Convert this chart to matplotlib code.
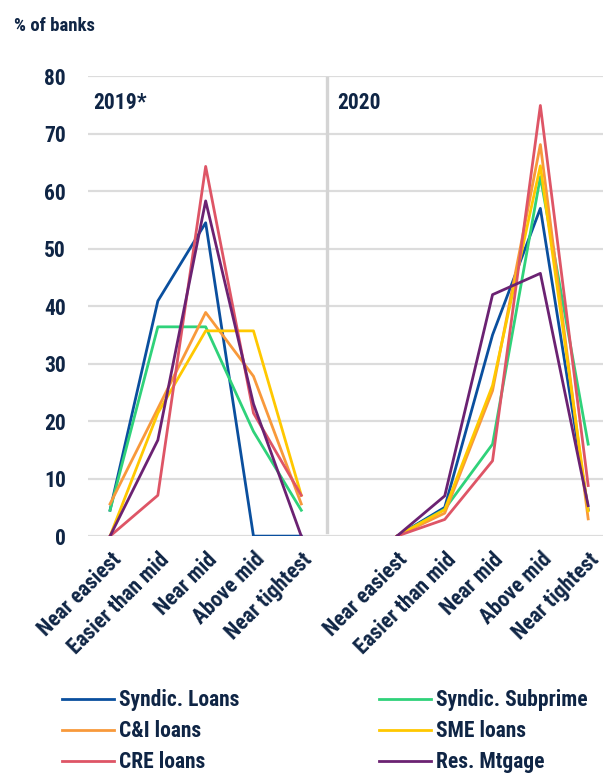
import numpy as np
import matplotlib
matplotlib.use("Agg")
from matplotlib import pyplot as plt

plt.rcParams['font.family'] = ['Roboto Condensed', 'DejaVu Sans']
plt.rcParams['font.weight'] = 'bold'

navy = '#0f2545'

categories = ['Near easiest', 'Easier than mid', 'Near mid', 'Above mid', 'Near tightest']
years = ['2019*', '2020']

# % of banks, 2019*
syndic_2019 = [4.5, 40.9, 54.5, 0, 0]
subprime_2019 = [4.5, 36.4, 36.4, 18.2, 4.5]
ci_2019 = [5.6, 22.2, 38.9, 27.8, 5.6]
sme_2019 = [0, 21.4, 35.7, 35.7, 7.1]
cre_2019 = [0, 7.1, 64.3, 21.4, 7.1]
mtg_2019 = [0, 16.7, 58.3, 23.0, 0]

# % of banks, 2020
syndic_2020 = [0, 5.0, 35.0, 57.0, 4.6]
subprime_2020 = [0, 4.7, 16.0, 62.5, 16.0]
ci_2020 = [0, 4.0, 25.3, 68.1, 3.0]
sme_2020 = [0, 4.6, 26.2, 64.4, 4.4]
cre_2020 = [0, 2.9, 13.1, 74.9, 8.8]
mtg_2020 = [0, 7.0, 42.0, 45.7, 5.3]

series = [
    ('Syndic. Loans', '#0a4f9e', syndic_2019, syndic_2020),
    ('C&I loans', '#f8993b', ci_2019, ci_2020),
    ('CRE loans', '#de5566', cre_2019, cre_2020),
    ('Syndic. Subprime', '#2fd27a', subprime_2019, subprime_2020),
    ('SME loans', '#ffc800', sme_2019, sme_2020),
    ('Res. Mtgage', '#6b2272', mtg_2019, mtg_2020),
]
draw_order = [0, 3, 1, 4, 2, 5]

fig = plt.figure(figsize=(6.03, 7.77), dpi=100)
ax = fig.add_axes([0.146, 0.310, 0.854, 0.592])

x_left = np.arange(5)
x_right = np.arange(5) + 6

handles = {}
for i in draw_order:
    name, col, v19, v20 = series[i]
    h, = ax.plot(x_left, v19, color=col, lw=2.0, label=name, zorder=3)
    ax.plot(x_right, v20, color=col, lw=2.0, zorder=3)
    handles[i] = h

ax.set_xlim(-0.46, 10.31)
ax.set_ylim(0, 80)
ax.set_yticks(range(0, 81, 10))
ax.grid(axis='y', color='#dcdcdc', lw=1.6, zorder=0)
ax.set_axisbelow(True)
for s in ax.spines.values():
    s.set_visible(False)
ax.tick_params(axis='both', length=0, colors=navy)
ax.tick_params(axis='y', labelsize=15.5, pad=16)

ax.set_xticks(np.concatenate([x_left, x_right]))
ax.set_xticklabels(categories + categories, rotation=45, ha='right',
                   rotation_mode='anchor', fontsize=15.5, color=navy)
ax.tick_params(axis='x', pad=9)

# separator between the two years
ax.axvline(4.54, ymin=0.01, ymax=0.995, color='#d4d4d4', lw=2.4, zorder=1)

ax.text(-0.36, 75.3, years[0], fontsize=15.5, color=navy, va='center', ha='left')
ax.text(4.75, 75.3, years[1], fontsize=15.5, color=navy, va='center', ha='left')

fig.text(0.023, 0.967, '% of banks', fontsize=13.5, color=navy, va='center', ha='left')

leg = fig.legend([handles[i] for i in range(6)], [s[0] for s in series],
                 ncol=2, loc='upper left', bbox_to_anchor=(0.103, 0.113),
                 borderpad=0, borderaxespad=0,
                 frameon=False, fontsize=15.5, handlelength=2.4, handletextpad=0.23,
                 columnspacing=6.5, labelspacing=0.42)
for t in leg.get_texts():
    t.set_color(navy)

fig.savefig('out.png', dpi=100)
